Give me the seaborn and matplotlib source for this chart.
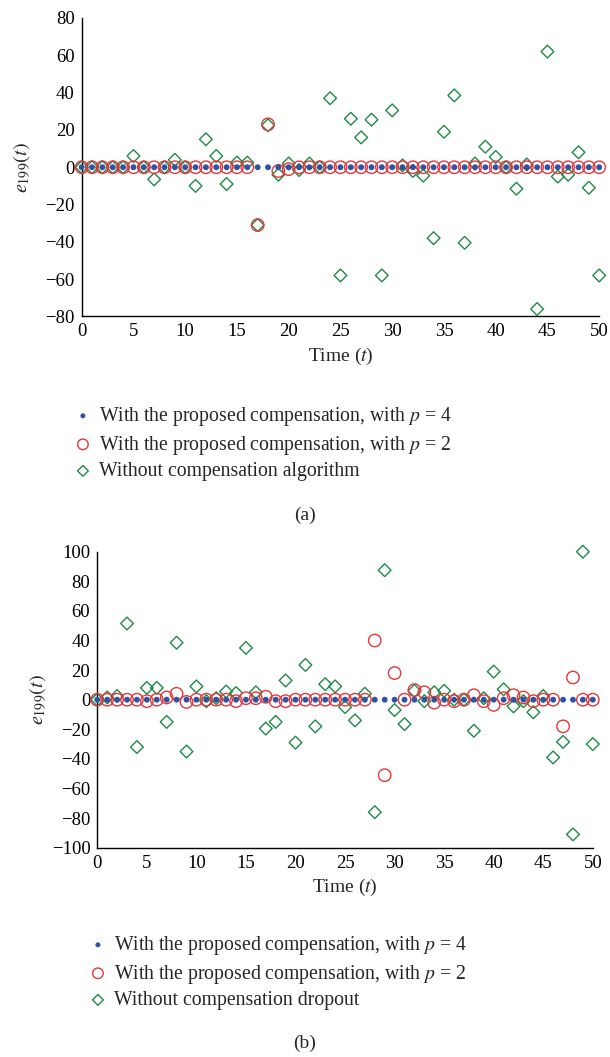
import matplotlib
matplotlib.use("Agg")
import matplotlib.pyplot as plt
import seaborn as sns
import numpy as np
import pandas as pd

# time steps
t = list(range(51))

# (a) values
a_p4 = [0] * 51
a_p2 = [0, 0, 0, 0, 0, 0, 0, 0, 0, 0, 0, 0, 0, 0, 0, 0, 0, -31, 23, -2,
        -1, 0, 0, 0, 0, 0, 0, 0, 0, 0, 0, 0, 0, 0, 0, 0, 0, 0, 0, 0,
        0, 0, 0, 0, 0, 0, 0, 0, 0, 0, 0]
a_none = [0, 0, 0, 0, 0, 6, 0, -6.5, 0, 4, 0, -10, 15, 6, -9, 2.5, 2.5, -31, 22.5, -4,
          2, -1.5, 2, 0, 37, -58, 26, 16, 25.5, -58, 30.5, 1, -2, -4.5, -38, 19, 38.5, -40.5, 2, 11,
          5.5, 0, -11.5, 1.5, -76, 62, -5, -4, 8, -11, -58]

# (b) values
b_p4 = [0] * 51
b_p2 = [0, 0, 0, 0, 0, -1, 0, 1.5, 4, -1.5, 0, 0, 0, 0, -1, 1, 1, 2, -1, -1,
        0, 0, 0, 0, 0, 0, 0, 0, 40, -51, 18, 0, 6.5, 5, -2, 0, -1, 0, 3, -1,
        -3.5, 1, 3, 1.5, -1, 0, 0, -18, 15, 0, 0]
b_none = [0, 1.5, 2.5, 51.5, -32, 8, 8, -15, 38.5, -35, 9, -1, 1, 5.5, 4.5, 35, 5, -19.5, -15, 13,
          -29, 23.5, -18, 10.5, 9, -5, -14, 4, -76, 87.5, -7, -16.5, 6, -1, 5, 6, 0, 0, -21, 1,
          19, 7, -4.5, -1, -8.5, 2.5, -39, -28.5, -91, 100, -30]

BLUE = "#2f52a3"
RED = "#e2383b"
GREEN = "#1f8a47"

sns.set_style("white")
plt.rcParams["font.family"] = ["Liberation Serif", "DejaVu Serif"]
plt.rcParams["mathtext.fontset"] = "stix"

fig = plt.figure(figsize=(6.10, 10.57), dpi=100)


def panel(rect, p4, p2, none, ylim, yticks, none_label, ylab_x, leg_x, leg_y, tag, tag_y):
    ax = fig.add_axes(rect)
    df = pd.DataFrame({"t": t, "p4": p4, "p2": p2, "none": none})
    sns.scatterplot(data=df, x="t", y="none", ax=ax, marker="D", s=42,
                    facecolors="none", edgecolors=GREEN, linewidth=1.0,
                    label=none_label, zorder=3, clip_on=False)
    sns.scatterplot(data=df, x="t", y="p2", ax=ax, marker="o", s=80,
                    facecolors="none", edgecolors=RED, linewidth=1.0,
                    label="With the proposed compensation, with $p$ = 2",
                    zorder=4, clip_on=False)
    sns.scatterplot(data=df, x="t", y="p4", ax=ax, marker="o", s=18,
                    color=BLUE, edgecolor="none", linewidth=0,
                    label="With the proposed compensation, with $p$ = 4",
                    zorder=5, clip_on=False)
    ax.set_xlim(0, 50)
    ax.set_ylim(*ylim)
    ax.set_xticks(range(0, 51, 5))
    ax.set_yticks(yticks)
    ax.set_yticklabels([str(v).replace("-", "\u2212") for v in yticks])
    sns.despine(ax=ax)
    for s in ["left", "bottom"]:
        ax.spines[s].set_color("black")
        ax.spines[s].set_linewidth(1.0)
    ax.tick_params(direction="in", length=4, width=1.0, labelsize=13.5,
                   colors="black", pad=5)
    ax.set_xlabel("Time ($t$)", fontsize=14, labelpad=4)
    ax.set_ylabel("")
    fig.text(ylab_x, rect[1] + rect[3] / 2, "$e_{199}(t)$", rotation=90,
             ha="center", va="center", fontsize=14.5)
    handles, labels = ax.get_legend_handles_labels()
    order = [2, 1, 0]
    ax.legend([handles[i] for i in order], [labels[i] for i in order],
              loc="upper left", bbox_to_anchor=(leg_x, leg_y),
              bbox_transform=fig.transFigure, frameon=False, fontsize=14.2,
              handlelength=0.7, handletextpad=0.45, labelspacing=0.28,
              borderaxespad=0, borderpad=0, markerscale=0.85)
    fig.text(0.5, tag_y, tag, ha="center", va="center", fontsize=14)
    return ax


panel([81.7 / 610, 1 - 316.5 / 1057, 517.5 / 610, 298.5 / 1057],
      a_p4, a_p2, a_none, (-80, 80), list(range(-80, 81, 20)),
      "Without compensation algorithm", 22 / 610, 76 / 610, 1 - 405 / 1057,
      "(a)", 1 - 515 / 1057)

panel([97.3 / 610, 1 - 847.7 / 1057, 495.5 / 610, 296 / 1057],
      b_p4, b_p2, b_none, (-100, 100), list(range(-100, 101, 20)),
      "Without compensation dropout", 38 / 610, 91 / 610, 1 - 934 / 1057,
      "(b)", 1 - 1043 / 1057)

fig.savefig("out.png", dpi=100, facecolor="white")
